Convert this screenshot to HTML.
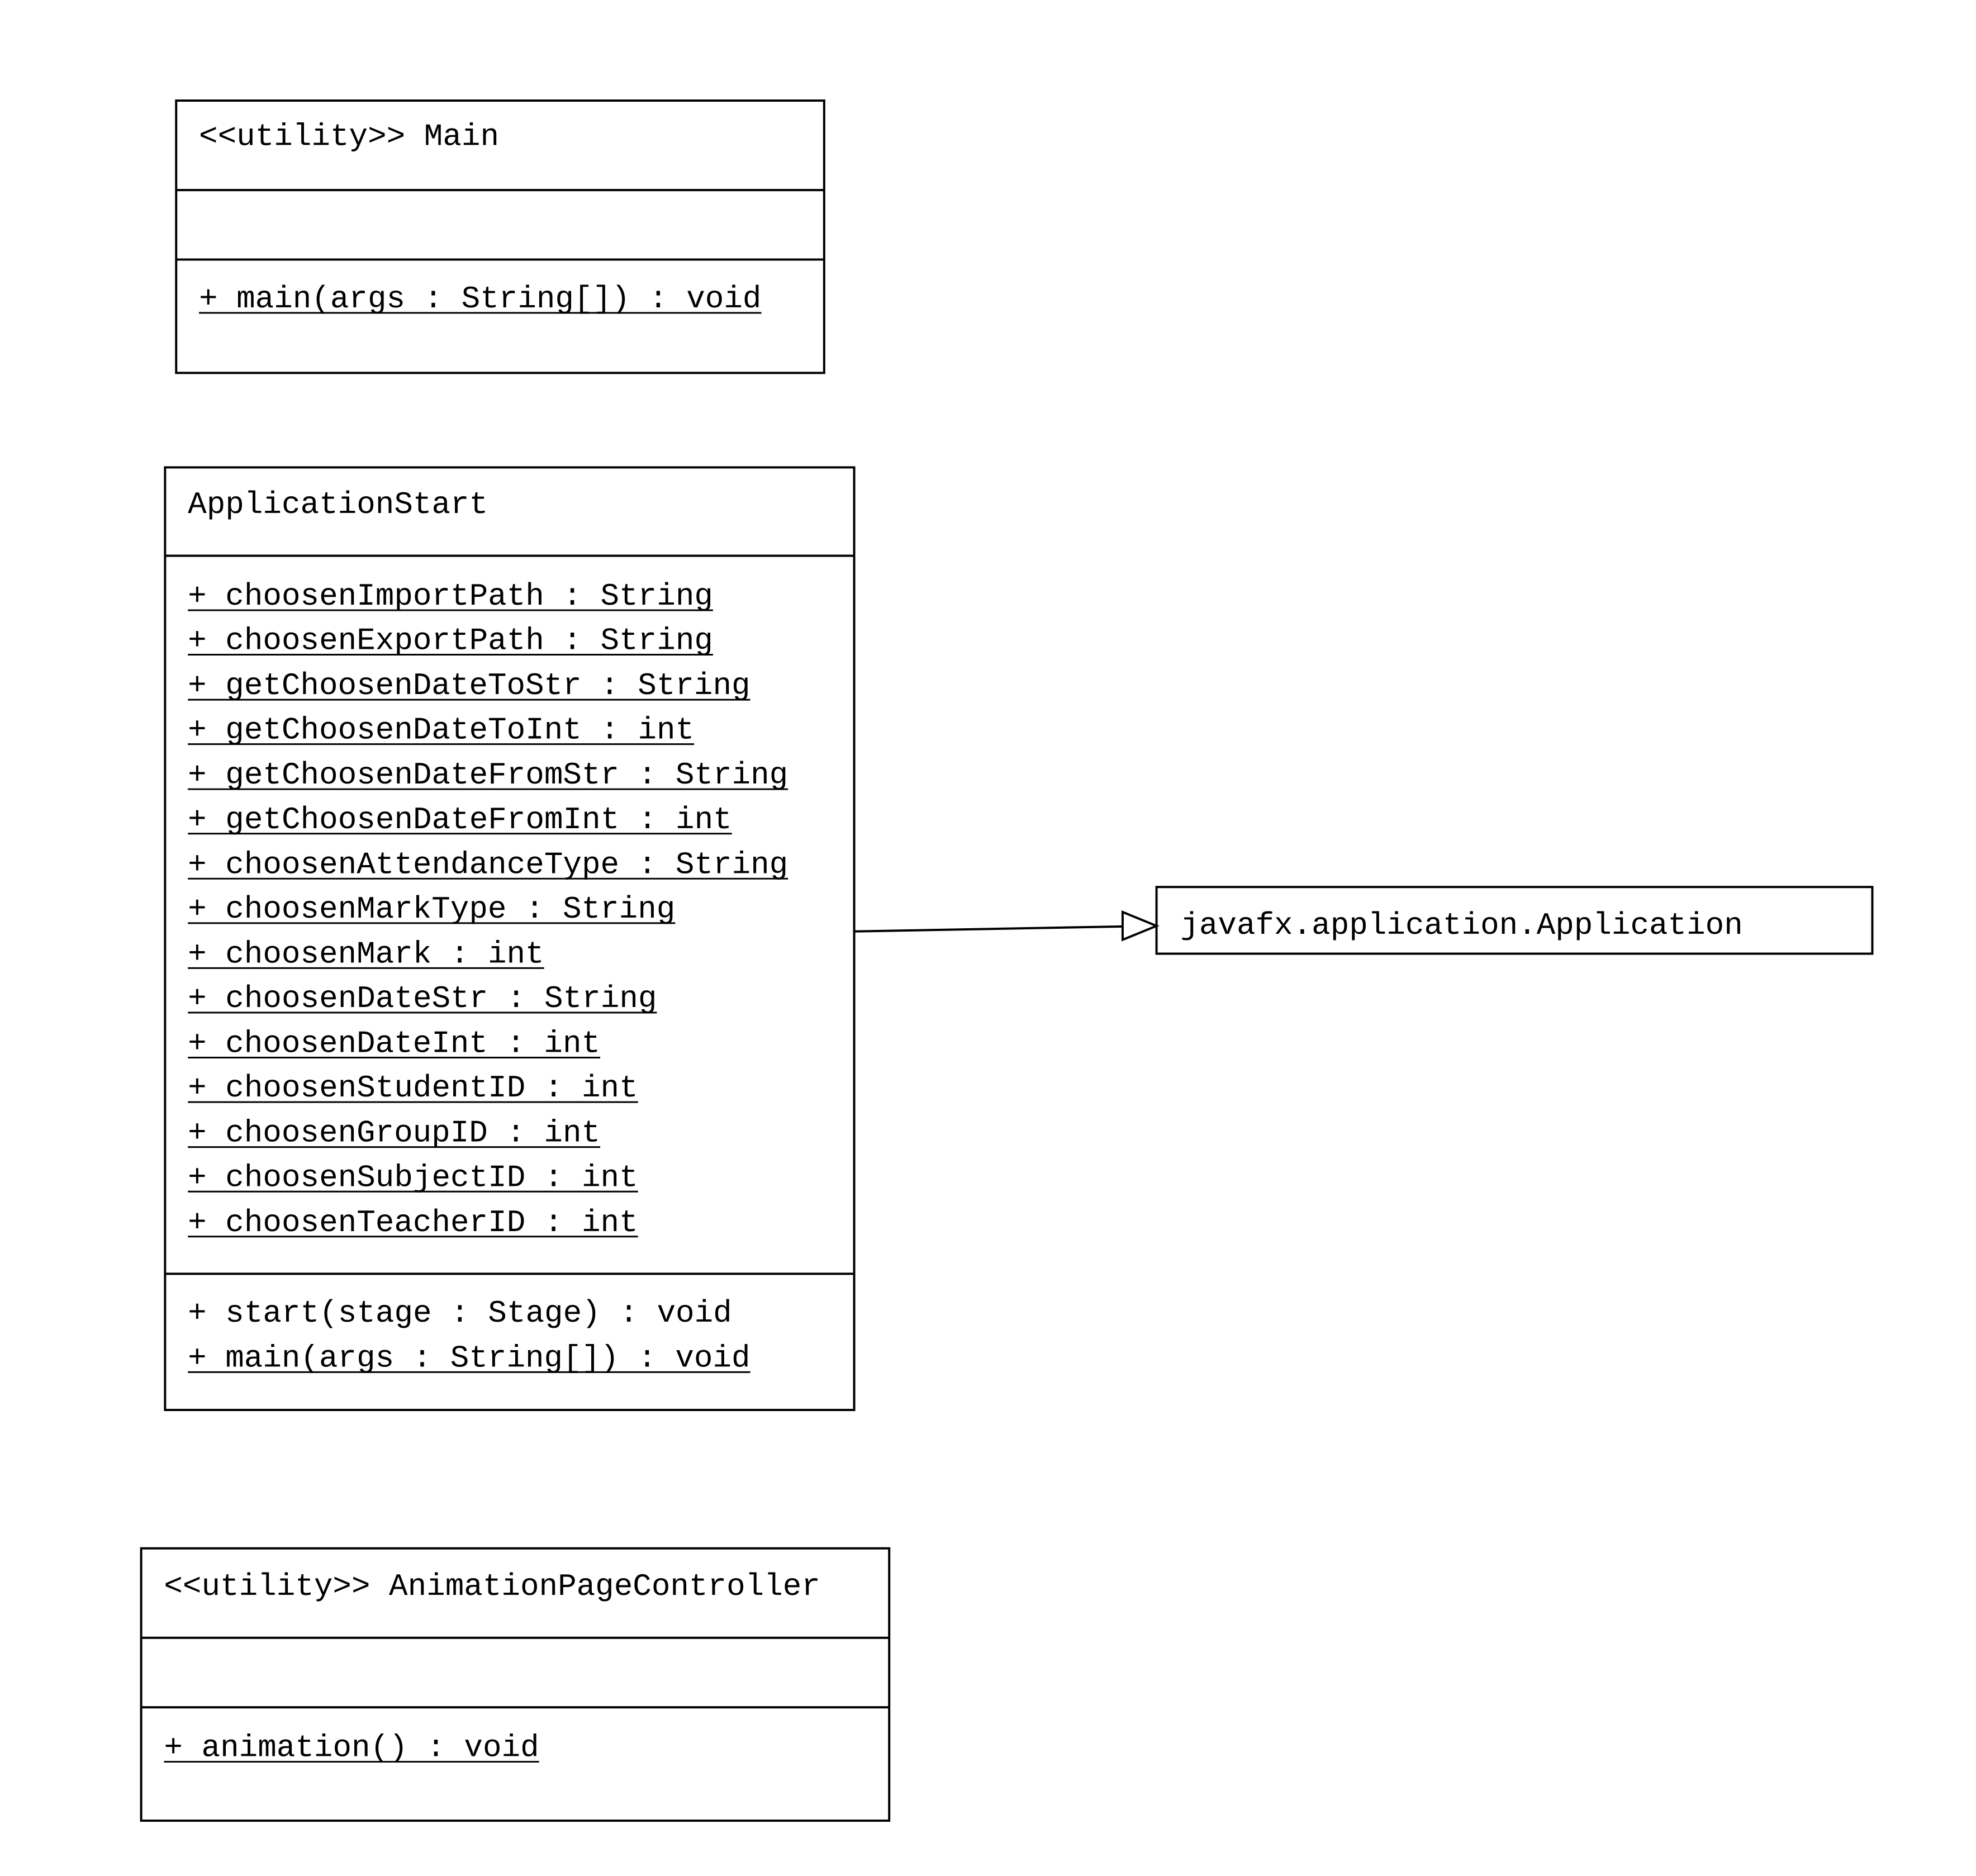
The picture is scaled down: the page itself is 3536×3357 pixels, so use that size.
<!DOCTYPE html>
<html><head><style>html,body{margin:0;padding:0;background:#fff}svg{display:block}</style></head>
<body>
<svg xmlns="http://www.w3.org/2000/svg" width="3536" height="3357" viewBox="0 0 3536 3357">
<rect width="3536" height="3357" fill="#fff"/>
<g transform="scale(0.9945)">
<g fill="none" stroke="#000" stroke-width="4">
<rect x="317" y="181" width="1166" height="490"/>
<line x1="317" y1="342" x2="1483" y2="342"/>
<line x1="317" y1="467" x2="1483" y2="467"/>
<rect x="297" y="841" width="1240" height="1696"/>
<line x1="297" y1="1000" x2="1537" y2="1000"/>
<line x1="297" y1="2292" x2="1537" y2="2292"/>
<rect x="2081" y="1596" width="1288" height="120"/>
<rect x="254" y="2786" width="1346" height="490"/>
<line x1="254" y1="2947" x2="1600" y2="2947"/>
<line x1="254" y1="3072" x2="1600" y2="3072"/>
<line x1="1537" y1="1676" x2="2020" y2="1667"/>
<polygon points="2020,1641 2081,1666 2020,1691" fill="#fff"/>
</g>
<g font-family="Liberation Mono, monospace" font-size="56" fill="#000">
<text x="358" y="261" textLength="540" lengthAdjust="spacingAndGlyphs">&lt;&lt;utility&gt;&gt; Main</text>
<text x="358" y="553" textLength="1012" lengthAdjust="spacingAndGlyphs">+ main(args : String[]) : void</text>
<text x="338" y="923" textLength="540" lengthAdjust="spacingAndGlyphs">ApplicationStart</text>
<text x="338" y="1088" textLength="945" lengthAdjust="spacingAndGlyphs">+ choosenImportPath : String</text>
<text x="338" y="1168" textLength="945" lengthAdjust="spacingAndGlyphs">+ choosenExportPath : String</text>
<text x="338" y="1249" textLength="1012" lengthAdjust="spacingAndGlyphs">+ getChoosenDateToStr : String</text>
<text x="338" y="1329" textLength="911" lengthAdjust="spacingAndGlyphs">+ getChoosenDateToInt : int</text>
<text x="338" y="1410" textLength="1080" lengthAdjust="spacingAndGlyphs">+ getChoosenDateFromStr : String</text>
<text x="338" y="1490" textLength="979" lengthAdjust="spacingAndGlyphs">+ getChoosenDateFromInt : int</text>
<text x="338" y="1571" textLength="1080" lengthAdjust="spacingAndGlyphs">+ choosenAttendanceType : String</text>
<text x="338" y="1651" textLength="877" lengthAdjust="spacingAndGlyphs">+ choosenMarkType : String</text>
<text x="338" y="1732" textLength="641" lengthAdjust="spacingAndGlyphs">+ choosenMark : int</text>
<text x="338" y="1812" textLength="844" lengthAdjust="spacingAndGlyphs">+ choosenDateStr : String</text>
<text x="338" y="1893" textLength="742" lengthAdjust="spacingAndGlyphs">+ choosenDateInt : int</text>
<text x="338" y="1973" textLength="810" lengthAdjust="spacingAndGlyphs">+ choosenStudentID : int</text>
<text x="338" y="2054" textLength="742" lengthAdjust="spacingAndGlyphs">+ choosenGroupID : int</text>
<text x="338" y="2134" textLength="810" lengthAdjust="spacingAndGlyphs">+ choosenSubjectID : int</text>
<text x="338" y="2215" textLength="810" lengthAdjust="spacingAndGlyphs">+ choosenTeacherID : int</text>
<text x="338" y="2378" textLength="979" lengthAdjust="spacingAndGlyphs">+ start(stage : Stage) : void</text>
<text x="338" y="2459" textLength="1012" lengthAdjust="spacingAndGlyphs">+ main(args : String[]) : void</text>
<text x="2124" y="1680" textLength="1012" lengthAdjust="spacingAndGlyphs">javafx.application.Application</text>
<text x="295" y="2870" textLength="1181" lengthAdjust="spacingAndGlyphs">&lt;&lt;utility&gt;&gt; AnimationPageController</text>
<text x="295" y="3160" textLength="675" lengthAdjust="spacingAndGlyphs">+ animation() : void</text>
</g>
<g stroke="#000" stroke-width="3">
<line x1="358" y1="563" x2="1370" y2="563"/>
<line x1="338" y1="1098" x2="1283" y2="1098"/>
<line x1="338" y1="1178" x2="1283" y2="1178"/>
<line x1="338" y1="1259" x2="1350" y2="1259"/>
<line x1="338" y1="1339" x2="1249" y2="1339"/>
<line x1="338" y1="1420" x2="1418" y2="1420"/>
<line x1="338" y1="1500" x2="1317" y2="1500"/>
<line x1="338" y1="1581" x2="1418" y2="1581"/>
<line x1="338" y1="1661" x2="1215" y2="1661"/>
<line x1="338" y1="1742" x2="979" y2="1742"/>
<line x1="338" y1="1822" x2="1182" y2="1822"/>
<line x1="338" y1="1903" x2="1080" y2="1903"/>
<line x1="338" y1="1983" x2="1148" y2="1983"/>
<line x1="338" y1="2064" x2="1080" y2="2064"/>
<line x1="338" y1="2144" x2="1148" y2="2144"/>
<line x1="338" y1="2225" x2="1148" y2="2225"/>
<line x1="338" y1="2469" x2="1350" y2="2469"/>
<line x1="295" y1="3170" x2="970" y2="3170"/>
</g>
</g>
</svg>
</body></html>
